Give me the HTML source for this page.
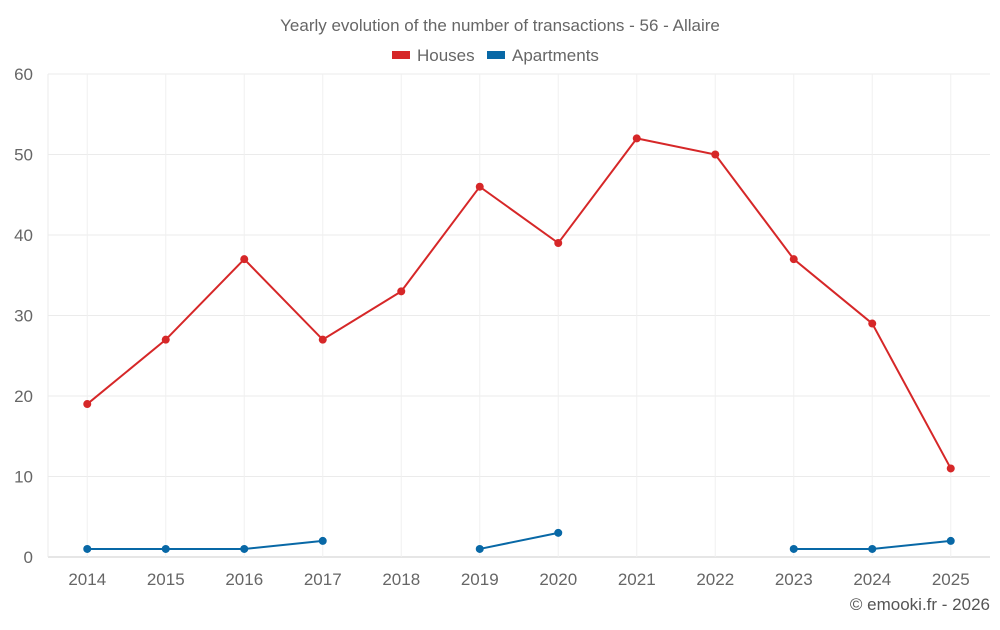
<!DOCTYPE html>
<html><head><meta charset="utf-8"><style>
body{margin:0;background:#fff;width:1000px;height:625px;overflow:hidden;font-family:"Liberation Sans",sans-serif}
</style></head><body>
<svg id="chart" width="1000" height="625" xmlns="http://www.w3.org/2000/svg" font-family="Liberation Sans, sans-serif">
<text x="500" y="31" text-anchor="middle" font-size="17" fill="#666">Yearly evolution of the number of transactions - 56 - Allaire</text>
<g>
<g><rect x="392" y="51" width="18" height="8" fill="#d62728"/><text x="417" y="61" font-size="17" fill="#666">Houses</text></g>
<g><rect x="487" y="51" width="18" height="8" fill="#0868a6"/><text x="512" y="61" font-size="17" fill="#666">Apartments</text></g>
</g>
<g id="grid"></g><g id="axes"></g><g id="series"></g>
<text x="990" y="610" text-anchor="end" font-size="17" fill="#555">© emooki.fr - 2026</text>
</svg>
<script>
const categories=["2014","2015","2016","2017","2018","2019","2020","2021","2022","2023","2024","2025"];
const houses=[19,27,37,27,33,46,39,52,50,37,29,11];
const apartments=[1,1,1,2,null,1,3,null,null,1,1,2];
const yTicks=[0,10,20,30,40,50,60];
const NS="http://www.w3.org/2000/svg";
const L=48,R=990,T=74,B=557,yMax=60;
const bw=(R-L)/categories.length;
const x=i=>L+bw*(i+0.5);
const y=v=>B-(B-T)*v/yMax;
function mk(tag,attrs,parent){const e=document.createElementNS(NS,tag);for(const k in attrs)e.setAttribute(k,attrs[k]);parent.appendChild(e);return e;}
const grid=document.getElementById('grid'),axes=document.getElementById('axes'),ser=document.getElementById('series');
yTicks.forEach(t=>{
 const l=mk('line',{x1:L,x2:R,y1:y(t),y2:y(t),stroke:t===0?'#ccc':'#ebebeb','stroke-width':1},grid);
 
 
 const tx=mk('text',{x:33,y:y(t)+6,'text-anchor':'end','font-size':17,fill:'#666'},axes);
 tx.textContent=t;
 
 
});
mk('line',{x1:L,x2:L,y1:T,y2:B,stroke:'#ebebeb'},grid);
categories.forEach((c,i)=>{
 const l=mk('line',{x1:x(i),x2:x(i),y1:T,y2:B,stroke:'#f0f0f0'},grid);
 
 
 const tx=mk('text',{x:x(i),y:585,'text-anchor':'middle','font-size':17,fill:'#666'},axes);
 tx.textContent=c;
 
 
});
function draw(data,color,name){
 let d='',pen=false;
 data.forEach((v,i)=>{if(v==null){pen=false;return;}d+=(pen?'L':'M')+x(i)+' '+y(v)+' ';pen=true;});
 const p=mk('path',{d:d,fill:'none',stroke:color,'stroke-width':2},ser);
 
 
 data.forEach((v,i)=>{if(v==null)return;
  const c=mk('circle',{cx:x(i),cy:y(v),r:4,fill:color},ser);
  
  
 });
}
draw(houses,'#d62728','houses');
draw(apartments,'#0868a6','apartments');
</script>
</body></html>
